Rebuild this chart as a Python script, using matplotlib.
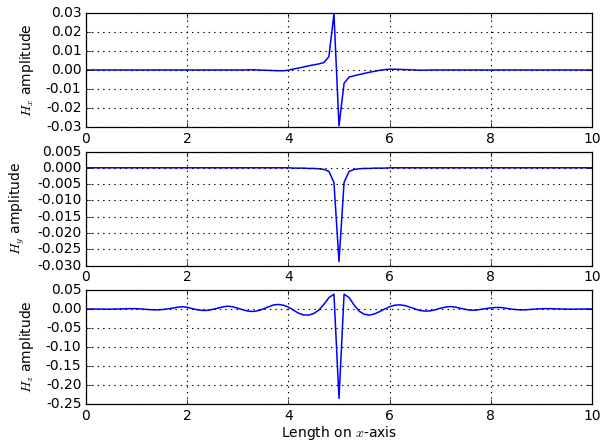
# -*- coding: utf-8 -*-

import numpy as np
import matplotlib
matplotlib.use("Agg")
import matplotlib.pyplot as plt

plt.style.use("classic")

# sample positions along the x-axis (step 0.1)
x = np.round(np.arange(0, 101) * 0.1, 1)

hx = [
    0.0, 0.0, 0.0, 0.0, 0.0, 0.0, 0.0, 0.0, 0.0, 0.0,
    0.0, 0.0, 0.0, 0.0, 0.0, 0.0, 0.0, 0.0, 0.0, 0.0,
    0.0, 0.0, 0.0, 0.0, 0.0, 0.0, 0.0, 0.0, 0.0, 0.0,
    0.0, 0.0, 0.0001, 0.0001, 0.0, -0.0001, -0.0002, -0.0003, -0.0004, -0.0004,
    -0.0001, 0.0005, 0.0010, 0.0016, 0.0022, 0.0027, 0.0032, 0.0039, 0.0070, 0.0295,
    -0.0295, -0.0070, -0.0037, -0.0030, -0.0024, -0.0018, -0.0012, -0.0007, -0.0002, 0.0002,
    0.0004, 0.0004, 0.0003, 0.0002, 0.0001, 0.0, -0.0001, -0.0001, 0.0, 0.0,
    0.0, 0.0, 0.0, 0.0, 0.0, 0.0, 0.0, 0.0, 0.0, 0.0,
    0.0, 0.0, 0.0, 0.0, 0.0, 0.0, 0.0, 0.0, 0.0, 0.0,
    0.0, 0.0, 0.0, 0.0, 0.0, 0.0, 0.0, 0.0, 0.0, 0.0,
    0.0,
]

hy = [
    0.0, 0.0, 0.0, 0.0, 0.0, 0.0, 0.0, 0.0, 0.0, 0.0,
    0.0, 0.0, 0.0, 0.0, 0.0, 0.0, 0.0, 0.0, 0.0, 0.0,
    0.0, 0.0, 0.0, 0.0, 0.0, 0.0, 0.0, 0.0, 0.0, 0.0,
    0.0, 0.0, 0.0, 0.0, 0.0, 0.0, 0.0, 0.0, 0.0, 0.0,
    0.0, -0.0001, -0.0001, -0.0001, -0.0002, -0.0002, -0.0003, -0.0005, -0.0011, -0.0045,
    -0.0288, -0.0045, -0.0011, -0.0005, -0.0003, -0.0002, -0.0002, -0.0001, -0.0001, -0.0001,
    0.0, 0.0, 0.0, 0.0, 0.0, 0.0, 0.0, 0.0, 0.0, 0.0,
    0.0, 0.0, 0.0, 0.0, 0.0, 0.0, 0.0, 0.0, 0.0, 0.0,
    0.0, 0.0, 0.0, 0.0, 0.0, 0.0, 0.0, 0.0, 0.0, 0.0,
    0.0, 0.0, 0.0, 0.0, 0.0, 0.0, 0.0, 0.0, 0.0, 0.0,
    0.0,
]

hz = [
    0.0001, 0.0001, 0.0, -0.0002, -0.0004, -0.0003, 0.0, 0.0003, 0.0008, 0.001,
    0.0008, 0.0, -0.001, -0.002, -0.0022, -0.0015, 0.0, 0.002, 0.0045, 0.006,
    0.0045, 0.001, -0.002, -0.0038, -0.0035, -0.001, 0.002, 0.0055, 0.0075, 0.006,
    0.002, -0.002, -0.0055, -0.0065, -0.0045, 0.0, 0.0055, 0.0105, 0.012, 0.010,
    0.005, -0.003, -0.011, -0.0155, -0.016, -0.012, -0.003, 0.012, 0.030, 0.039,
    -0.235, 0.039, 0.030, 0.010, -0.006, -0.014, -0.016, -0.013, -0.007, 0.0,
    0.006, 0.010, 0.011, 0.009, 0.005, 0.0005, -0.004, -0.0055, -0.005, -0.002,
    0.002, 0.005, 0.0065, 0.005, 0.002, -0.001, -0.003, -0.003, -0.001, 0.001,
    0.003, 0.004, 0.004, 0.002, 0.0, -0.0015, -0.0025, -0.002, -0.001, 0.0,
    0.0008, 0.001, 0.0008, 0.0003, 0.0, -0.0003, -0.0004, -0.0002, 0.0, 0.0001,
    0.0001,
]

series = [hx, hy, hz]
ylabels = [r"$H_x$ amplitude", r"$H_y$ amplitude", r"$H_z$ amplitude"]
ylims = [(-0.03, 0.03), (-0.030, 0.005), (-0.25, 0.05)]
yticks = [
    [-0.03, -0.02, -0.01, 0.0, 0.01, 0.02, 0.03],
    [-0.030, -0.025, -0.020, -0.015, -0.010, -0.005, 0.000, 0.005],
    [-0.25, -0.20, -0.15, -0.10, -0.05, 0.00, 0.05],
]
yfmt = ["%.2f", "%.3f", "%.2f"]

fs = 10

fig, axes = plt.subplots(3, 1, figsize=(6.03, 4.45), dpi=100)
fig.subplots_adjust(left=0.1426, right=0.9818, top=0.9708, bottom=0.0921, hspace=0.215)
fig.patch.set_facecolor("white")

for ax, y, lab, lim, ticks, fmt in zip(axes, series, ylabels, ylims, yticks, yfmt):
    ax.plot(x, y, color="b", linewidth=1.1)
    ax.set_xlim(0, 10)
    ax.set_ylim(*lim)
    ax.set_xticks([0, 2, 4, 6, 8, 10])
    ax.set_yticks(ticks)
    ax.set_yticklabels([fmt % t for t in ticks])
    ax.set_ylabel(lab, fontsize=fs, labelpad=7)
    ax.grid(True, color="k", linestyle=":", linewidth=0.8)
    ax.tick_params(labelsize=fs, length=3.3, pad=3.3)
    for sp in ax.spines.values():
        sp.set_linewidth(0.9)

axes[-1].set_xlabel(r"Length on $x$-axis", fontsize=fs, labelpad=1)

fig.savefig("out.png", dpi=100, facecolor="white")
